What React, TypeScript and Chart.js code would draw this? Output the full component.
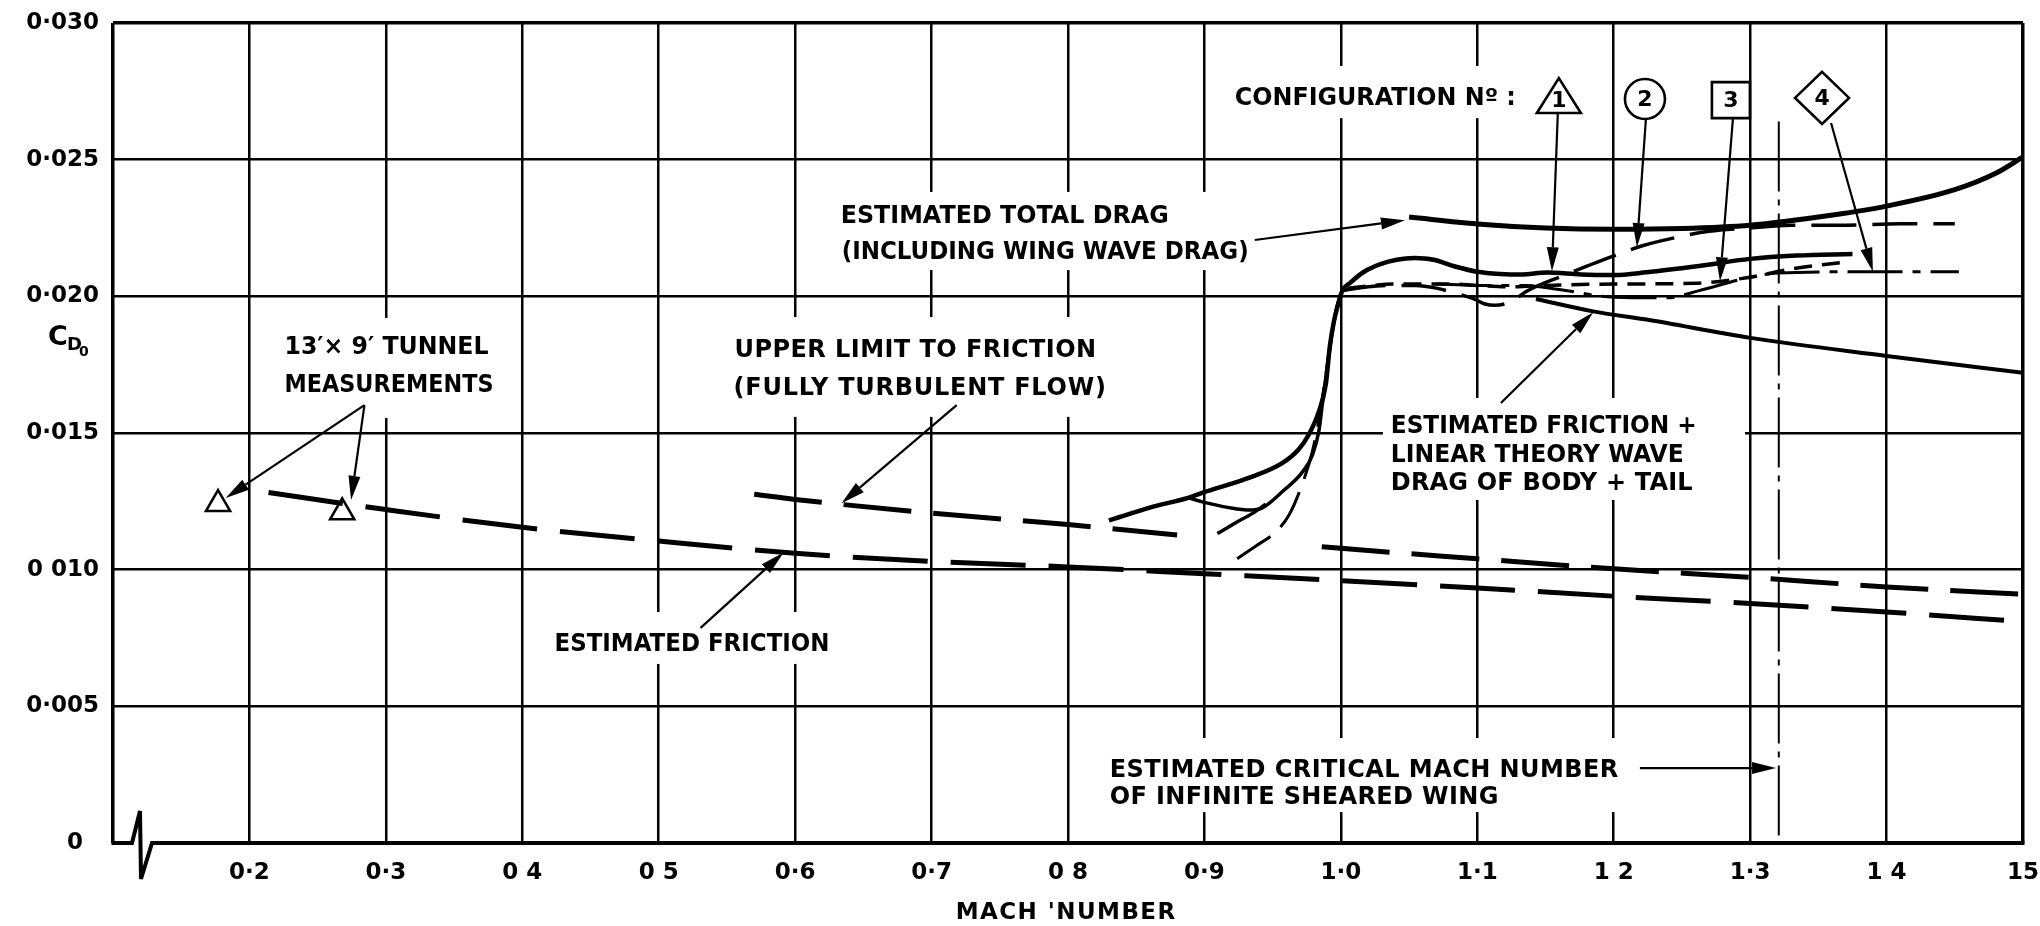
import React, { useEffect, useRef } from 'react';
import { Chart, registerables } from 'chart.js';

Chart.register(...registerables);

// ---- axes ----
const machTicks = [0.1, 0.2, 0.3, 0.4, 0.5, 0.6, 0.7, 0.8, 0.9, 1.0, 1.1, 1.2, 1.3, 1.4, 1.5];
const machTickLabels = ['', '0·2', '0·3', '0 4', '0 5', '0·6', '0·7', '0 8', '0·9', '1·0', '1·1', '1 2', '1·3', '1 4', '15'];
const cdTicks = [0, 0.005, 0.01, 0.015, 0.02, 0.025, 0.03];
const cdTickLabels = ['0\u2007', '0·005', '0 010', '0·015', '0·020', '0·025', '0·030'];

// ---- series ----
// Estimated friction
const frictionMach = [0.214, 0.3, 0.4, 0.5, 0.6, 0.7, 0.8, 0.9, 1.0, 1.1, 1.2, 1.3, 1.4, 1.5];
const frictionCd = [0.01282, 0.0122, 0.01155, 0.01105, 0.0106, 0.0103, 0.0101, 0.00985, 0.0096, 0.00933, 0.00903, 0.00876, 0.00845, 0.0081];

// Upper limit to friction (fully turbulent flow), broken across the drag rise
const turbulentLowMach = [0.57, 0.6, 0.7, 0.8, 0.88];
const turbulentLowCd = [0.01276, 0.01257, 0.01207, 0.01165, 0.01127];
const turbulentHighMach = [0.986, 1.0, 1.1, 1.2, 1.3, 1.4, 1.5];
const turbulentHighCd = [0.01084, 0.01078, 0.0104, 0.01003, 0.00972, 0.00937, 0.0091];

// Estimated total drag (including wing wave drag)
const totalDragMach = [1.05, 1.1, 1.15, 1.2, 1.25, 1.3, 1.35, 1.4, 1.45, 1.48, 1.5];
const totalDragCd = [0.0229, 0.02265, 0.0225, 0.02245, 0.02248, 0.0226, 0.0229, 0.0233, 0.0239, 0.0245, 0.0251];

// Estimated friction + linear theory wave drag of body + tail
const frictionWaveMach = [1.143, 1.185, 1.224, 1.3, 1.4, 1.5];
const frictionWaveCd = [0.0199, 0.01945, 0.01915, 0.01848, 0.01782, 0.0172];

// Configuration 1 (solid)
const config1Mach = [0.83, 0.86, 0.888, 0.9, 0.918, 0.933, 0.957, 0.969, 0.976, 0.984, 0.989, 0.992, 0.995, 0.998, 1.001, 1.007, 1.017, 1.029, 1.041, 1.054, 1.068, 1.083, 1.1, 1.117, 1.132, 1.151, 1.176, 1.2, 1.224, 1.261, 1.3, 1.334, 1.375];
const config1Cd = [0.0118, 0.01227, 0.01263, 0.01284, 0.01312, 0.01337, 0.0139, 0.0144, 0.0149, 0.0158, 0.0168, 0.0182, 0.0191, 0.0197, 0.0202, 0.0205, 0.0209, 0.02118, 0.02134, 0.0214, 0.02134, 0.0211, 0.0209, 0.02082, 0.0208, 0.02087, 0.0208, 0.02078, 0.02088, 0.0211, 0.02137, 0.02149, 0.02155];

// Configuration 2 (long dash)
const config2Mach = [1.0, 1.02, 1.04, 1.055, 1.07, 1.085, 1.098, 1.105, 1.113, 1.122, 1.128, 1.135, 1.145, 1.16, 1.188, 1.221, 1.25, 1.27, 1.3, 1.33, 1.37, 1.41, 1.45];
const config2Cd = [0.0202, 0.02035, 0.0204, 0.0204, 0.0203, 0.0201, 0.0199, 0.01973, 0.01967, 0.01975, 0.0199, 0.02015, 0.0204, 0.0207, 0.02125, 0.02185, 0.0222, 0.02238, 0.0225, 0.0226, 0.0226, 0.02266, 0.02266];

// Configuration 3 (short dash)
const config3Mach = [1.005, 1.04, 1.08, 1.1, 1.127, 1.15, 1.2, 1.26, 1.3, 1.33, 1.367];
const config3Cd = [0.0203, 0.02045, 0.02045, 0.0204, 0.02035, 0.0204, 0.02045, 0.02048, 0.0207, 0.021, 0.02124];

// Configuration 4 (chain)
const config4Mach = [1.07, 1.1, 1.135, 1.16, 1.2, 1.24, 1.262, 1.3, 1.32, 1.39, 1.453];
const config4Cd = [0.02045, 0.0204, 0.0204, 0.02025, 0.01997, 0.01995, 0.0202, 0.0207, 0.02085, 0.0209, 0.0209];

// Transonic drag-rise branches
const riseBMach = [0.888, 0.8985, 0.918, 0.933, 0.942, 0.957, 0.9715, 0.979, 0.984, 0.987, 0.9905, 0.994, 0.997, 1.0];
const riseBCd = [0.01263, 0.01248, 0.01227, 0.01218, 0.01225, 0.01285, 0.01355, 0.01417, 0.0151, 0.0163, 0.0176, 0.0188, 0.0196, 0.0201];
const riseCMach = [0.9095, 0.923, 0.935, 0.945];
const riseCCd = [0.01132, 0.01172, 0.01205, 0.0124];
const riseDMach = [0.924, 0.9375, 0.952, 0.962, 0.9715, 0.979, 0.984, 0.988, 0.992, 0.996, 1.0];
const riseDCd = [0.0104, 0.01086, 0.01137, 0.012, 0.0131, 0.0143, 0.0155, 0.0168, 0.0182, 0.0193, 0.0201];

// Estimated critical Mach number of infinite sheared wing
const criticalMach = [1.321, 1.321];
const criticalCd = [0.0264, 0];

// 13' x 9' tunnel measurements
const tunnelMach = [0.177, 0.268];
const tunnelCd = [0.0124, 0.0121];

// ---- lettering ----
const LETTER_FONT = '"DejaVu Sans", sans-serif';
const NUMBER_FONT = '"DejaVu Sans", sans-serif';

const notes = [
  { text: 'ESTIMATED TOTAL DRAG', m: 0.6334, cd: 0.02301, w: 328 },
  { text: '(INCLUDING WING WAVE DRAG)', m: 0.6341, cd: 0.0217, w: 407 },
  { text: 'UPPER LIMIT TO FRICTION', m: 0.5556, cd: 0.01811, w: 362 },
  { text: '(FULLY TURBULENT FLOW)', m: 0.5549, cd: 0.01672, w: 373 },
  { text: '13′× 9′ TUNNEL', m: 0.2257, cd: 0.01822, w: 204 },
  { text: 'MEASUREMENTS', m: 0.2257, cd: 0.01683, w: 209 },
  { text: 'ESTIMATED FRICTION', m: 0.4236, cd: 0.00735, w: 275 },
  { text: 'ESTIMATED FRICTION +', m: 1.0366, cd: 0.01533, w: 306 },
  { text: 'LINEAR THEORY WAVE', m: 1.0366, cd: 0.01427, w: 293 },
  { text: 'DRAG OF BODY + TAIL', m: 1.0366, cd: 0.01324, w: 302 },
  { text: 'ESTIMATED CRITICAL MACH NUMBER', m: 0.8306, cd: 0.00274, w: 509 },
  { text: 'OF INFINITE SHEARED WING', m: 0.8306, cd: 0.00176, w: 389 },
  { text: 'CONFIGURATION Nº :', m: 0.9223, cd: 0.02733, w: 281 },
];

// white panels behind the lettering (they interrupt the grid)
const panels = [
  [0.2088, 0.01921, 0.3833, 0.01555],
  [0.5336, 0.01924, 0.8306, 0.01559],
  [0.6253, 0.02382, 0.9391, 0.02096],
  [0.4163, 0.00845, 0.6326, 0.00655],
  [1.0308, 0.01628, 1.2962, 0.01255],
  [0.8233, 0.00384, 1.2119, 0.00113],
  [0.9149, 0.02843, 1.1386, 0.02652],
];

// leader arrows: tail -> head
const leaders = [
  [0.9369, 0.02206, 1.047, 0.02278],
  [0.7184, 0.01602, 0.634, 0.01243],
  [0.2843, 0.01602, 0.1826, 0.01262],
  [0.2843, 0.01602, 0.2745, 0.01255],
  [0.5307, 0.00787, 0.5916, 0.01063],
  [1.1173, 0.0161, 1.185, 0.01942],
  [1.2192, 0.00274, 1.319, 0.00274],
  [1.159, 0.02667, 1.1547, 0.02092],
  [1.2236, 0.02649, 1.217, 0.0218],
  [1.2874, 0.02652, 1.2779, 0.02055],
  [1.3593, 0.02634, 1.39, 0.0209],
];

const configKeys = [
  { shape: 'triangle', label: '1', m: 1.1598, cd: 0.02729 },
  { shape: 'circle', label: '2', m: 1.2229, cd: 0.02722 },
  { shape: 'square', label: '3', m: 1.2859, cd: 0.02718 },
  { shape: 'diamond', label: '4', m: 1.3527, cd: 0.02726 },
];

const pts = (xs: number[], ys: number[]) => xs.map((x, i) => ({ x, y: ys[i] }));

function curve(xs: number[], ys: number[], width: number, dash: number[] = []) {
  return {
    data: pts(xs, ys),
    borderColor: '#000',
    borderWidth: width,
    borderDash: dash,
    borderCapStyle: 'butt',
    borderJoinStyle: 'round',
    pointRadius: 0,
    fill: false,
    cubicInterpolationMode: 'monotone',
  };
}

function fittedText(ctx: CanvasRenderingContext2D, text: string, x: number, cy: number, width: number, size: number, font = LETTER_FONT) {
  ctx.save();
  ctx.font = `bold ${size}px ${font}`;
  (ctx as any).letterSpacing = '0px';
  const natural = ctx.measureText(text).width;
  const n = Array.from(text).length;
  const ls = Math.max(0, (width - natural) / n);
  (ctx as any).letterSpacing = `${ls}px`;
  const measured = ctx.measureText(text).width - ls;
  const sx = measured > width ? width / measured : 1;
  ctx.translate(x, cy + size * 0.36);
  ctx.scale(sx, 1);
  ctx.textAlign = 'left';
  ctx.textBaseline = 'alphabetic';
  ctx.fillStyle = '#000';
  ctx.fillText(text, 0, 0);
  ctx.restore();
}

function arrow(ctx: CanvasRenderingContext2D, x1: number, y1: number, x2: number, y2: number) {
  const a = Math.atan2(y2 - y1, x2 - x1);
  const len = 24;
  const hw = 6;
  const bx = x2 - len * Math.cos(a);
  const by = y2 - len * Math.sin(a);
  ctx.beginPath();
  ctx.moveTo(x1, y1);
  ctx.lineTo(bx, by);
  ctx.lineWidth = 2.2;
  ctx.stroke();
  ctx.beginPath();
  ctx.moveTo(x2, y2);
  ctx.lineTo(bx + hw * Math.sin(a), by - hw * Math.cos(a));
  ctx.lineTo(bx - hw * Math.sin(a), by + hw * Math.cos(a));
  ctx.closePath();
  ctx.fill();
}

const annotationPlugin = {
  id: 'dragAnnotations',
  beforeDatasetsDraw(chart: any) {
    const { ctx, chartArea } = chart;
    const sx = chart.scales.x;
    const sy = chart.scales.y;
    ctx.save();
    ctx.fillStyle = '#fff';
    for (const [m1, c1, m2, c2] of panels) {
      const x1 = sx.getPixelForValue(m1);
      const x2 = sx.getPixelForValue(m2);
      const y1 = sy.getPixelForValue(c1);
      const y2 = sy.getPixelForValue(c2);
      ctx.fillRect(x1, y1, x2 - x1, y2 - y1);
    }
    // base line with the axis break near the origin
    const L = chartArea.left;
    const R = chartArea.right;
    const B = chartArea.bottom;
    ctx.strokeStyle = '#000';
    ctx.lineWidth = 4;
    ctx.lineJoin = 'miter';
    ctx.miterLimit = 3;
    ctx.beginPath();
    ctx.moveTo(L - 1.5, B);
    ctx.lineTo(L + 19, B);
    ctx.lineTo(L + 27, B - 32);
    ctx.lineTo(L + 28, B + 36);
    ctx.lineTo(L + 39, B);
    ctx.lineTo(R + 1.5, B);
    ctx.stroke();
    ctx.restore();
  },
  afterDatasetsDraw(chart: any) {
    const { ctx, chartArea } = chart;
    const sx = chart.scales.x;
    const sy = chart.scales.y;
    ctx.save();
    ctx.fillStyle = '#000';
    ctx.strokeStyle = '#000';

    for (const n of notes) {
      fittedText(ctx, n.text, sx.getPixelForValue(n.m), sy.getPixelForValue(n.cd), n.w, 24);
    }

    for (const [m1, c1, m2, c2] of leaders) {
      arrow(ctx, sx.getPixelForValue(m1), sy.getPixelForValue(c1), sx.getPixelForValue(m2), sy.getPixelForValue(c2));
    }

    // configuration key symbols
    for (const k of configKeys) {
      const cx = sx.getPixelForValue(k.m);
      const cy = sy.getPixelForValue(k.cd);
      ctx.lineWidth = 2.6;
      ctx.beginPath();
      if (k.shape === 'triangle') {
        ctx.moveTo(cx, cy - 19);
        ctx.lineTo(cx + 22, cy + 16);
        ctx.lineTo(cx - 22, cy + 16);
        ctx.closePath();
      } else if (k.shape === 'circle') {
        ctx.arc(cx, cy, 20, 0, Math.PI * 2);
      } else if (k.shape === 'square') {
        ctx.rect(cx - 19, cy - 18, 38, 36);
      } else {
        ctx.moveTo(cx, cy - 26);
        ctx.lineTo(cx + 27, cy);
        ctx.lineTo(cx, cy + 26);
        ctx.lineTo(cx - 27, cy);
        ctx.closePath();
      }
      ctx.fillStyle = '#fff';
      ctx.fill();
      ctx.stroke();
      ctx.fillStyle = '#000';
      ctx.font = `bold 22px ${NUMBER_FONT}`;
      ctx.textAlign = 'center';
      ctx.textBaseline = 'middle';
      ctx.fillText(k.label, cx, cy + (k.shape === 'triangle' ? 4 : 1));
    }

    // axis titles
    const titleX = sx.getPixelForValue(0.7983);
    fittedText(ctx, "MACH 'NUMBER", titleX - 110, chartArea.bottom + 68, 221, 23);

    const cdY = sy.getPixelForValue(0.01858);
    ctx.fillStyle = '#000';
    ctx.textAlign = 'left';
    ctx.textBaseline = 'alphabetic';
    ctx.font = `bold 27px ${LETTER_FONT}`;
    ctx.fillText('C', chartArea.left - 65, cdY + 10);
    ctx.font = `bold 18px ${LETTER_FONT}`;
    ctx.fillText('D', chartArea.left - 46, cdY + 15);
    ctx.font = `bold 14px ${LETTER_FONT}`;
    ctx.fillText('0', chartArea.left - 34, cdY + 21);
    ctx.restore();
  },
};

export default function App() {
  const canvasRef = useRef<HTMLCanvasElement | null>(null);

  useEffect(() => {
    const canvas = canvasRef.current;
    if (!canvas) return;

    const datasets: any[] = [
      curve(frictionMach, frictionCd, 5, [75, 23]),
      curve(turbulentLowMach, turbulentLowCd, 5, [68, 22]),
      curve(turbulentHighMach, turbulentHighCd, 5, [68, 22]),
      curve(totalDragMach, totalDragCd, 5),
      curve(frictionWaveMach, frictionWaveCd, 4),
      curve(config1Mach, config1Cd, 4.5),
      curve(config2Mach, config2Cd, 3.5, [45, 16]),
      curve(config3Mach, config3Cd, 3.5, [18, 10]),
      curve(config4Mach, config4Cd, 3, [55, 10, 8, 10]),
      curve(riseBMach, riseBCd, 3.5),
      curve(riseCMach, riseCCd, 3.5),
      curve(riseDMach, riseDCd, 3, [40, 14]),
      { ...curve(criticalMach, criticalCd, 2, [70, 8, 6, 8]), cubicInterpolationMode: 'default', tension: 0 },
      {
        data: pts(tunnelMach, tunnelCd),
        showLine: false,
        pointStyle: 'triangle',
        pointRadius: 14,
        pointBackgroundColor: '#fff',
        pointBorderColor: '#000',
        pointBorderWidth: 2.5,
      },
      {
        data: pts(tunnelMach, tunnelCd),
        showLine: false,
        pointStyle: 'circle',
        pointRadius: 2,
        pointBackgroundColor: '#000',
        pointBorderColor: '#000',
        pointBorderWidth: 0,
      },
    ];

    const chart = new Chart(canvas, {
      type: 'line',
      data: { datasets },
      options: {
        animation: false,
        responsive: false,
        maintainAspectRatio: false,
        events: [],
        layout: { padding: { top: 23, right: 17, left: 0, bottom: 0 } },
        plugins: { legend: { display: false }, tooltip: { enabled: false } },
        scales: {
          x: {
            type: 'linear',
            min: 0.1,
            max: 1.5,
            afterBuildTicks: (s: any) => {
              s.ticks = machTicks.map((v) => ({ value: v }));
            },
            afterFit: (s: any) => {
              s.height = 83;
              s.paddingLeft = 0;
              s.paddingRight = 0;
            },
            border: { display: false },
            grid: {
              drawTicks: false,
              color: '#000',
              lineWidth: (c: any) => (c.tick && (c.tick.value === 0.1 || c.tick.value === 1.5) ? 3.5 : 2.5),
            },
            ticks: {
              autoSkip: false,
              maxRotation: 0,
              minRotation: 0,
              padding: 16,
              color: '#000',
              font: { family: NUMBER_FONT, size: 23, weight: 'bold' },
              callback: (_v: any, i: number) => machTickLabels[i],
            },
          },
          y: {
            type: 'linear',
            min: 0,
            max: 0.03,
            afterBuildTicks: (s: any) => {
              s.ticks = cdTicks.map((v) => ({ value: v }));
            },
            afterFit: (s: any) => {
              s.width = 113;
              s.paddingTop = 0;
              s.paddingBottom = 0;
            },
            border: { display: false },
            grid: {
              drawTicks: false,
              color: (c: any) => (c.tick && c.tick.value === 0 ? 'rgba(0,0,0,0)' : '#000'),
              lineWidth: (c: any) => (c.tick && c.tick.value === 0.03 ? 3.5 : 2.5),
            },
            ticks: {
              padding: 14,
              color: '#000',
              font: { family: NUMBER_FONT, size: 23, weight: 'bold' },
              callback: (_v: any, i: number) => cdTickLabels[i],
            },
          },
        },
      },
      plugins: [annotationPlugin],
    } as any);

    return () => chart.destroy();
  }, []);

  return (
    <div style={{ position: 'fixed', left: 0, top: 0, width: 2040, height: 926, background: '#fff' }}>
      <canvas ref={canvasRef} width={2040} height={926} style={{ width: 2040, height: 926, display: 'block' }} />
    </div>
  );
}
